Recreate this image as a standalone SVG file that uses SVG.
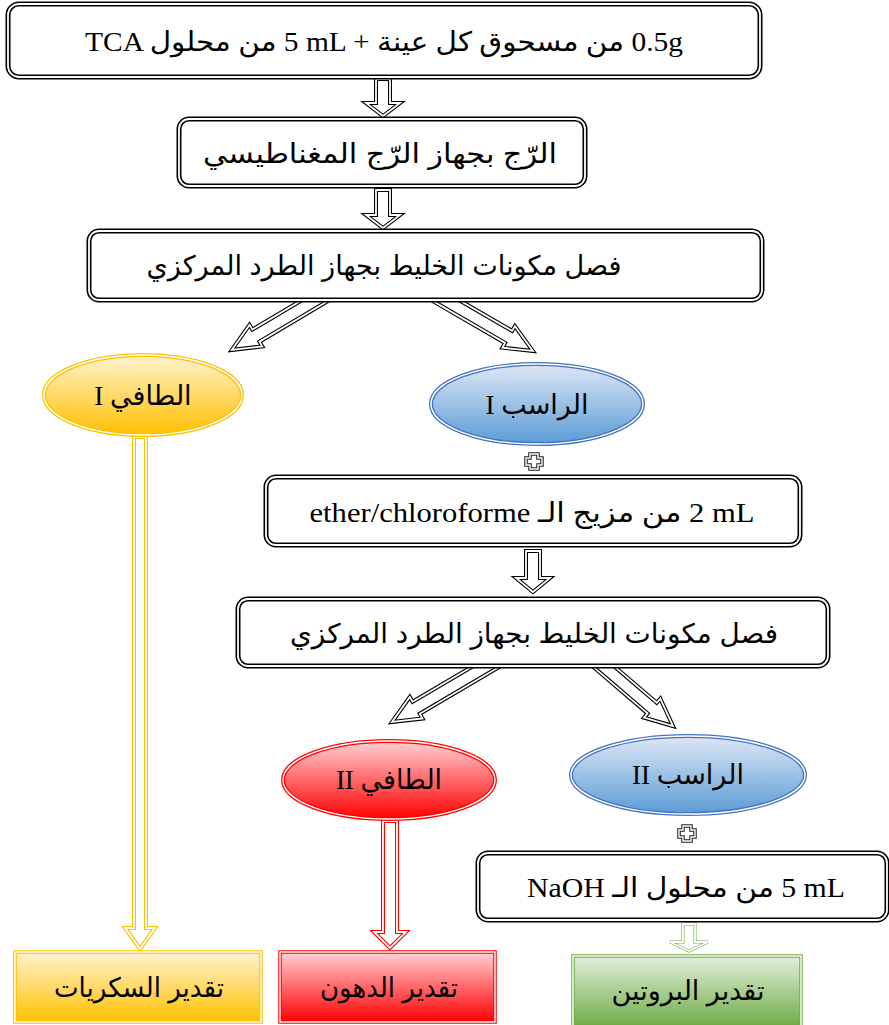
<svg xmlns="http://www.w3.org/2000/svg" width="889" height="1025" viewBox="0 0 889 1025">
  <style>
    .txt { font-family: "Liberation Serif", "DejaVu Sans", serif; font-size: 27px; fill: #000; text-anchor: middle; }
    .ar { font-family: "Liberation Sans", "DejaVu Sans", sans-serif; font-size: 27px; fill: #000; text-anchor: middle; }
    .box-out { fill: #fff; stroke: #000; stroke-width: 5; }
    .box-in { fill: none; stroke: #fff; stroke-width: 1.8; }
    .arr-out { fill: #fff; stroke: #000; stroke-width: 4; stroke-linejoin: miter; }
    .arr-in { fill: none; stroke: #fff; stroke-width: 1.8; stroke-linejoin: miter; }
    .plus-out { fill: #fff; stroke: #222; stroke-width: 3.5; }
    .plus-in { fill: none; stroke: #fff; stroke-width: 1.4; }
    .gap { fill: none; stroke: #fff; stroke-width: 1.4; }
  </style>
  <defs>
    <linearGradient id="gYellow" x1="0" y1="0" x2="0" y2="1">
      <stop offset="0" stop-color="#FFF3D0"/>
      <stop offset="1" stop-color="#FFC000"/>
    </linearGradient>
    <linearGradient id="gBlue" x1="0" y1="0" x2="0" y2="1">
      <stop offset="0" stop-color="#DEE7F5"/>
      <stop offset="1" stop-color="#5B9BD5"/>
    </linearGradient>
    <linearGradient id="gRed" x1="0" y1="0" x2="0" y2="1">
      <stop offset="0" stop-color="#FFD0D4"/>
      <stop offset="1" stop-color="#FF0000"/>
    </linearGradient>
    <linearGradient id="gGreen" x1="0" y1="0" x2="0" y2="1">
      <stop offset="0" stop-color="#E2EFDA"/>
      <stop offset="1" stop-color="#70AD47"/>
    </linearGradient>
  </defs>

  <rect width="889" height="1025" fill="#fff"/>

  <!-- connectors: hollow block arrows drawn as a double outline -->
  <g id="connectors">
    <!-- box 1 -> box 2 -->
    <path class="arr-out" d="M376,79 H390 V103 H400 L383,116 L366,103 H376 Z"/>
    <path class="arr-in" d="M376,79 H390 V103 H400 L383,116 L366,103 H376 Z"/>
    <!-- box 2 -> box 3 -->
    <path class="arr-out" d="M376,190 H390 V215 H400 L383,228 L366,215 H376 Z"/>
    <path class="arr-in" d="M376,190 H390 V215 H400 L383,228 L366,215 H376 Z"/>
    <!-- box 3 -> supernatant I -->
    <g transform="translate(329.4,292) rotate(149.3)">
      <path class="arr-out" d="M0,-7 H85.5 V-12.5 L113.5,0 L85.5,12.5 V7 H0 Z"/>
      <path class="arr-in" d="M0,-7 H85.5 V-12.5 L113.5,0 L85.5,12.5 V7 H0 Z"/>
    </g>
    <!-- box 3 -> pellet I -->
    <g transform="translate(431.2,292) rotate(30.1)">
      <path class="arr-out" d="M0,-7 H89.5 V-12.5 L117.5,0 L89.5,12.5 V7 H0 Z"/>
      <path class="arr-in" d="M0,-7 H89.5 V-12.5 L117.5,0 L89.5,12.5 V7 H0 Z"/>
    </g>
    <!-- box 4 -> box 5 -->
    <path class="arr-out" d="M526,551 H540 V578 H550 L533,592 L516,578 H526 Z"/>
    <path class="arr-in" d="M526,551 H540 V578 H550 L533,592 L516,578 H526 Z"/>
    <!-- box 5 -> supernatant II -->
    <g transform="translate(500.6,658) rotate(149.5)">
      <path class="arr-out" d="M0,-7 H98 V-12.5 L126,0 L98,12.5 V7 H0 Z"/>
      <path class="arr-in" d="M0,-7 H98 V-12.5 L126,0 L98,12.5 V7 H0 Z"/>
    </g>
    <!-- box 5 -> pellet II -->
    <g transform="translate(593.7,658) rotate(40.6)">
      <path class="arr-out" d="M0,-7 H77 V-12.5 L104.5,0 L77,12.5 V7 H0 Z"/>
      <path class="arr-in" d="M0,-7 H77 V-12.5 L104.5,0 L77,12.5 V7 H0 Z"/>
    </g>
    <!-- supernatant I -> sugars -->
    <path d="M134,437 H146 V928 H155 L140,949 L125,928 H134 Z" fill="#fff" stroke="#FFC000" stroke-width="4"/>
    <path class="arr-in" d="M134,437 H146 V928 H155 L140,949 L125,928 H134 Z"/>
    <!-- supernatant II -> lipids -->
    <path d="M383,821 H397 V932 H406 L390,948 L374,932 H383 Z" fill="#fff" stroke="#FF0000" stroke-width="4"/>
    <path class="arr-in" d="M383,821 H397 V932 H406 L390,948 L374,932 H383 Z"/>
    <!-- box 6 -> proteins -->
    <path d="M683,924 H695 V942 H708 L689,951 L670,942 H683 Z" fill="#fff" stroke="#70AD47" stroke-width="3"/>
    <path class="arr-in" d="M683,924 H695 V942 H708 L689,951 L670,942 H683 Z" stroke-width="1.2"/>
    <!-- plus signs -->
    <path class="plus-out" d="M530,454 H538 V458 H542 V465 H538 V469 H530 V465 H526 V458 H530 Z"/>
    <path class="plus-in" d="M530,454 H538 V458 H542 V465 H538 V469 H530 V465 H526 V458 H530 Z"/>
    <path class="plus-out" d="M683,826 H691 V830 H695 V837 H691 V841 H683 V837 H679 V830 H683 Z"/>
    <path class="plus-in" d="M683,826 H691 V830 H695 V837 H691 V841 H683 V837 H679 V830 H683 Z"/>
  </g>

  <g id="node-sample">
    <rect class="box-out" x="8" y="4" width="752" height="73" rx="11"/>
    <rect class="box-in" x="8" y="4" width="752" height="73" rx="11"/>
    <text class="txt" x="384" y="51" textLength="598" lengthAdjust="spacingAndGlyphs">TCA من محلول&#x200E; 5 mL +  من مسحوق كل عينة&#x200E; 0.5g</text>
  </g>

  <g id="node-stir">
    <rect class="box-out" x="179" y="119" width="406" height="67" rx="10"/>
    <rect class="box-in" x="179" y="119" width="406" height="67" rx="10"/>
    <text class="ar" x="380" y="163" textLength="354" lengthAdjust="spacingAndGlyphs">الرّج بجهاز الرّج المغناطيسي</text>
  </g>

  <g id="node-centrifuge-1">
    <rect class="box-out" x="89" y="231" width="673" height="69" rx="10"/>
    <rect class="box-in" x="89" y="231" width="673" height="69" rx="10"/>
    <text class="ar" x="384" y="275" textLength="475" lengthAdjust="spacingAndGlyphs">فصل مكونات الخليط بجهاز الطرد المركزي</text>
  </g>

  <g id="node-supernatant-1">
    <ellipse cx="143" cy="395" rx="99" ry="40" fill="url(#gYellow)" stroke="#FFC000" stroke-width="4"/>
    <ellipse class="gap" cx="143" cy="395" rx="99" ry="40"/>
    <text class="txt" x="143" y="405">I الطافي</text>
  </g>

  <g id="node-pellet-1">
    <ellipse cx="537" cy="404" rx="106" ry="40" fill="url(#gBlue)" stroke="#4472C4" stroke-width="4"/>
    <ellipse class="gap" cx="537" cy="404" rx="106" ry="40"/>
    <text class="txt" x="537" y="414">I الراسب</text>
  </g>

  <g id="node-solvent">
    <rect class="box-out" x="266" y="477" width="534" height="68" rx="10"/>
    <rect class="box-in" x="266" y="477" width="534" height="68" rx="10"/>
    <text class="txt" x="532" y="522" textLength="445" lengthAdjust="spacingAndGlyphs">ether/chloroforme من مزيج الـ&#x200E; 2 mL</text>
  </g>

  <g id="node-centrifuge-2">
    <rect class="box-out" x="238" y="599" width="590" height="67" rx="10"/>
    <rect class="box-in" x="238" y="599" width="590" height="67" rx="10"/>
    <text class="ar" x="534" y="643" textLength="488" lengthAdjust="spacingAndGlyphs">فصل مكونات الخليط بجهاز الطرد المركزي</text>
  </g>

  <g id="node-supernatant-2">
    <ellipse cx="389" cy="780" rx="106" ry="39" fill="url(#gRed)" stroke="#FF0000" stroke-width="4"/>
    <ellipse class="gap" cx="389" cy="780" rx="106" ry="39"/>
    <text class="txt" x="389" y="789">II الطافي</text>
  </g>

  <g id="node-pellet-2">
    <ellipse cx="688" cy="775" rx="117" ry="39" fill="url(#gBlue)" stroke="#4472C4" stroke-width="4"/>
    <ellipse class="gap" cx="688" cy="775" rx="117" ry="39"/>
    <text class="txt" x="688" y="784">II الراسب</text>
  </g>

  <g id="node-naoh">
    <rect class="box-out" x="478" y="853" width="409" height="67" rx="10"/>
    <rect class="box-in" x="478" y="853" width="409" height="67" rx="10"/>
    <text class="txt" x="686" y="897" textLength="318" lengthAdjust="spacingAndGlyphs">NaOH من محلول الـ&#x200E; 5 mL</text>
  </g>

  <g id="node-sugars">
    <rect x="15" y="952" width="246" height="70" fill="url(#gYellow)" stroke="#FFC000" stroke-width="3.5"/>
    <rect class="gap" x="15" y="952" width="246" height="70"/>
    <text class="ar" x="139" y="997" textLength="170" lengthAdjust="spacingAndGlyphs">تقدير السكريات</text>
  </g>

  <g id="node-lipids">
    <rect x="280" y="952" width="215" height="70" fill="url(#gRed)" stroke="#FF0000" stroke-width="3.5"/>
    <rect class="gap" x="280" y="952" width="215" height="70"/>
    <text class="ar" x="389" y="997" textLength="138" lengthAdjust="spacingAndGlyphs">تقدير الدهون</text>
  </g>

  <g id="node-proteins">
    <rect x="573" y="956" width="228" height="70" fill="url(#gGreen)" stroke="#70AD47" stroke-width="3.5"/>
    <rect class="gap" x="573" y="956" width="228" height="70"/>
    <text class="ar" x="688" y="1000" textLength="153" lengthAdjust="spacingAndGlyphs">تقدير البروتين</text>
  </g>
</svg>
